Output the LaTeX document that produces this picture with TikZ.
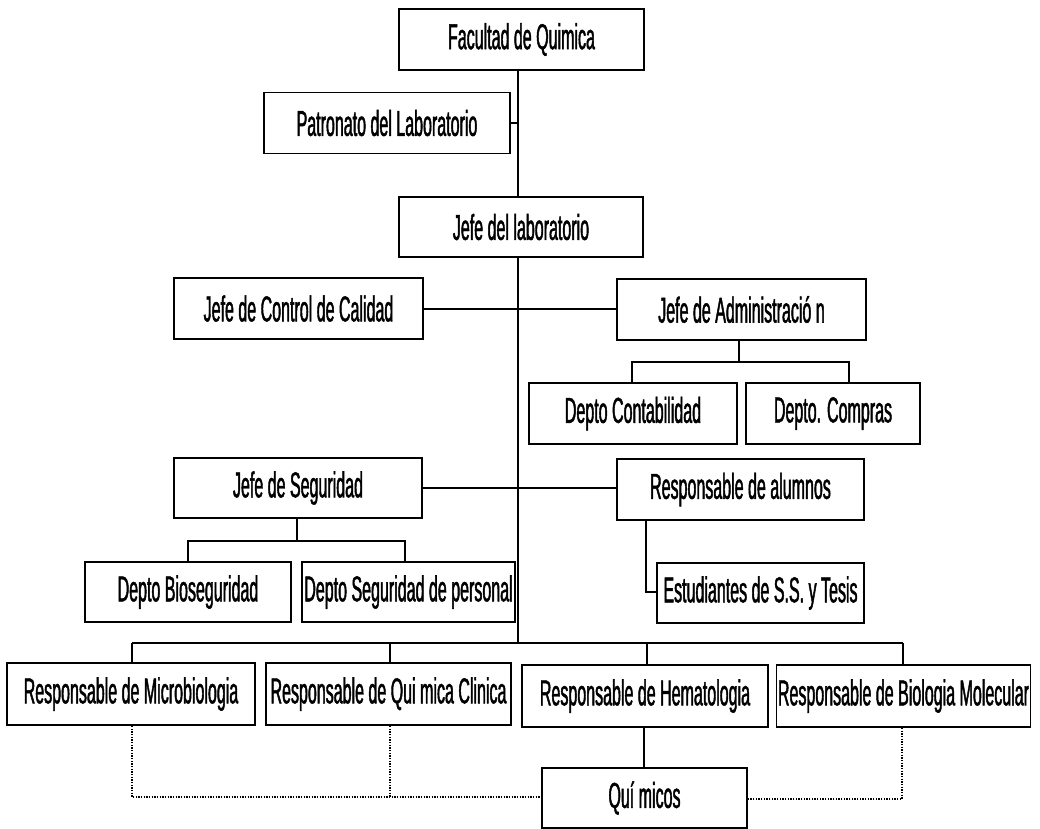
\documentclass[tikz,border=0pt]{standalone}
\usepackage{fontspec}
\setmainfont[FakeStretch=0.445,FakeBold=1.2]{Liberation Sans}
\begin{document}
\begin{tikzpicture}[x=0.75pt,y=-0.75pt,
  box/.style={draw, line width=1.3pt, inner sep=1pt, minimum width=#1*0.75pt, minimum height=61*0.75pt,
    font=\fontsize{27}{31}\selectfont},
  conn/.style={line width=1.2pt},
  dot/.style={line width=1pt, densely dotted}]
\useasboundingbox[fill=white] (0,0) rectangle (1040,829);
\node[box=245] (fac) at (521.5,39.5) {Facultad de Quimica};
\node[box=246] (pat) at (387,123) {Patronato del Laboratorio};
\node[box=244, minimum height=60*0.75pt] (jefe) at (521,227) {Jefe del laboratorio};
\node[box=249] (cc) at (298.5,308.5) {Jefe de Control de Calidad};
\node[box=249] (adm) at (741.5,309.5) {Jefe de Administració n};
\node[box=208] (cont) at (633,413.5) {Depto Contabilidad};
\node[box=174] (comp) at (833,413.5) {Depto. Compras};
\node[box=248, minimum height=60*0.75pt] (seg) at (298,488) {Jefe de Seguridad};
\node[box=247] (alum) at (740.5,489.5) {Responsable de alumnos};
\node[box=206, minimum height=60*0.75pt] (bio) at (188,592) {Depto Bioseguridad};
\node[box=213, minimum height=60*0.75pt] (segp) at (408.5,592) {Depto Seguridad de personal};
\node[box=207, minimum height=60*0.75pt] (est) at (760.5,593) {Estudiantes de S.S. y Tesis};
\node[box=248, minimum height=62*0.75pt] (micro) at (131,694) {Responsable de Microbiologia};
\node[box=245, minimum height=62*0.75pt] (qc) at (388.5,694) {Responsable de Qui mica Clinica};
\node[box=246, minimum height=62*0.75pt] (hema) at (645,696) {Responsable de Hematologia};
\node[box=251, minimum height=62*0.75pt] (bm) at (903.5,696) {Responsable de Biologia Molecular};
\node[box=205, minimum height=60*0.75pt] (quim) at (644.5,798) {Quí micos};
% spine
\coordinate (sTop) at (518,71);
\coordinate (sBus) at (518,643);
\coordinate (sPat) at (518,123);
\draw[conn] (sTop) -- (jefe.north -| sTop);
\draw[conn] (jefe.south -| sTop) -- (sBus);
\draw[conn] (pat.east) -- (sPat);
\draw[conn] (cc.east |- 0,309) -- (adm.west |- 0,309);
\draw[conn] (seg.east) -- (alum.west |- seg.east);
% administration subtree
\coordinate (aMid) at (739,362);
\draw[conn] (adm.south -| aMid) -- (aMid);
\draw[conn] (aMid) -- (632,362) -- (cont.north -| 632,0);
\draw[conn] (aMid) -- (849,362) -- (comp.north -| 849,0);
% security subtree
\coordinate (sgMid) at (297,541);
\draw[conn] (seg.south -| sgMid) -- (sgMid);
\draw[conn] (sgMid) -- (188,541) -- (bio.north);
\draw[conn] (sgMid) -- (405,541) -- (segp.north -| 405,0);
% students
\coordinate (eCorner) at (646,592);
\draw[conn] (alum.south -| eCorner) -- (eCorner) -- (est.west |- eCorner);
% bus
\coordinate (bL) at (132,643);
\coordinate (bR) at (903,643);
\draw[conn] (bL) -- (bR);
\draw[conn] (bL) -- (micro.north -| bL);
\draw[conn] (390,643) -- (qc.north -| 390,0);
\draw[conn] (647,643) -- (hema.north -| 647,0);
\draw[conn] (bR) -- (bm.north -| bR);
% quimicos
\draw[conn] (hema.south -| 644,0) -- (quim.north -| 644,0);
\coordinate (dL) at (132,797);
\coordinate (dQ) at (390,797);
\coordinate (dR) at (902,799);
\draw[dot] (micro.south -| dL) -- (dL) -- (quim.west |- dL);
\draw[dot] (qc.south -| dQ) -- (dQ);
\draw[dot] (bm.south -| dR) -- (dR) -- (quim.east |- dR);
\end{tikzpicture}
\end{document}
